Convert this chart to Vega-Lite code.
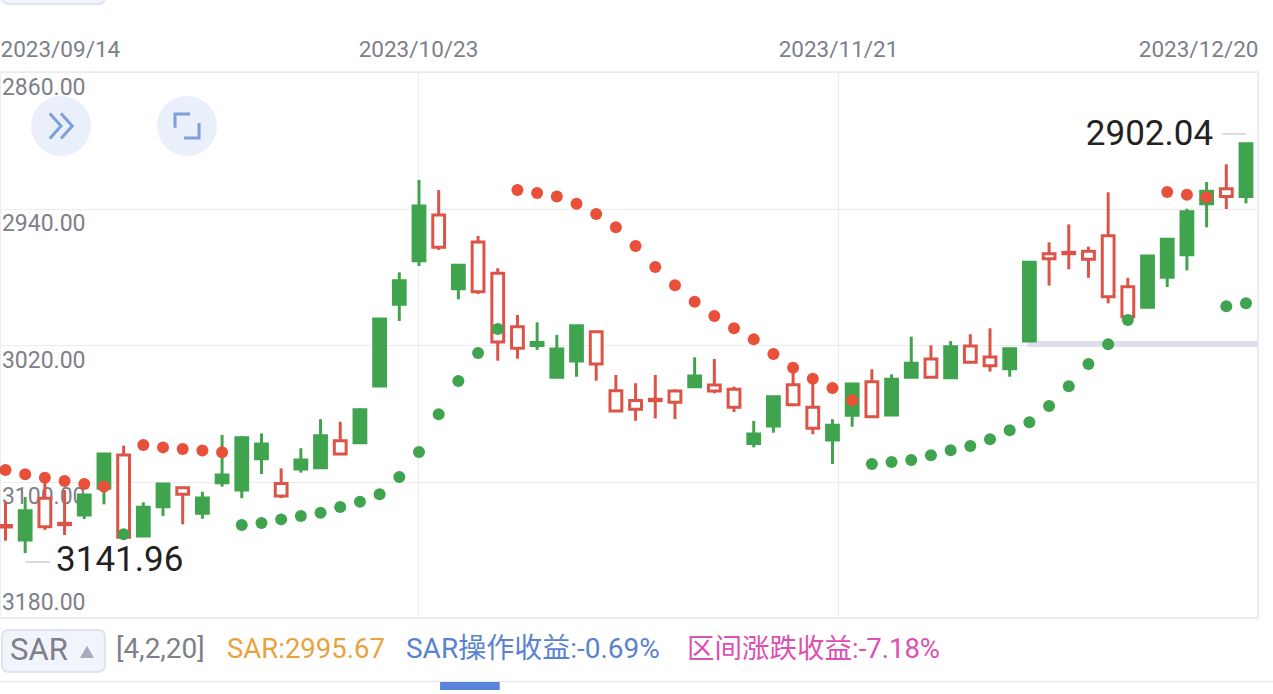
{"$schema":"https://vega.github.io/schema/vega-lite/v6.json","width":1258,"height":546,"autosize":{"type":"none"},"padding":{"left":0,"top":72,"right":15,"bottom":76},"background":"#ffffff","view":{"stroke":"#e8e9ee","strokeWidth":1.5},"config":{"font":"Roboto, 'Noto Sans CJK SC', sans-serif"},
"datasets":{"candles":[
{"i":0,"dir":"up","low":3111.8,"open":3125.8,"close":3126.7,"high":3134.7},
{"i":1,"dir":"down","low":3109.1,"open":3134.3,"close":3117.1,"high":3141.96},
{"i":2,"dir":"up","low":3097.9,"open":3109.8,"close":3126.5,"high":3128.4},
{"i":3,"dir":"up","low":3105,"open":3124.5,"close":3125.3,"high":3131.4},
{"i":4,"dir":"down","low":3107.9,"open":3119.6,"close":3107.9,"high":3122},
{"i":5,"dir":"down","low":3083.9,"open":3104,"close":3083.9,"high":3113.4},
{"i":6,"dir":"up","low":3079,"open":3084.5,"close":3132.7,"high":3132.7},
{"i":7,"dir":"down","low":3112.2,"open":3131.9,"close":3115.1,"high":3131.9},
{"i":8,"dir":"down","low":3101.5,"open":3114.8,"close":3101.5,"high":3120.2},
{"i":9,"dir":"up","low":3103.6,"open":3103.6,"close":3107.5,"high":3125.1},
{"i":10,"dir":"down","low":3106,"open":3118.6,"close":3109.7,"high":3121.8},
{"i":11,"dir":"down","low":3072.7,"open":3100.7,"close":3096.2,"high":3103},
{"i":12,"dir":"down","low":3073.3,"open":3105,"close":3074.3,"high":3109.8},
{"i":13,"dir":"down","low":3071.8,"open":3086.6,"close":3078,"high":3095.6},
{"i":14,"dir":"up","low":3092.3,"open":3101.1,"close":3108.5,"high":3109.8},
{"i":15,"dir":"down","low":3080.5,"open":3092.7,"close":3087.4,"high":3094.8},
{"i":16,"dir":"down","low":3063.5,"open":3091.9,"close":3073.2,"high":3091.9},
{"i":17,"dir":"up","low":3065,"open":3076.1,"close":3083.9,"high":3083.9},
{"i":18,"dir":"down","low":3057.1,"open":3077.3,"close":3057.9,"high":3077.3},
{"i":19,"dir":"down","low":3004.8,"open":3044,"close":3004.8,"high":3044},
{"i":20,"dir":"down","low":2977.4,"open":2996.1,"close":2982.3,"high":3005.9},
{"i":21,"dir":"down","low":2923.3,"open":2970.6,"close":2938.5,"high":2973.7},
{"i":22,"dir":"up","low":2929.2,"open":2943.8,"close":2962.7,"high":2964.3},
{"i":23,"dir":"down","low":2972.7,"open":2987,"close":2973.3,"high":2993.2},
{"i":24,"dir":"up","low":2956.1,"open":2959.6,"close":2988.8,"high":2990.1},
{"i":25,"dir":"up","low":2975,"open":2978,"close":3018.2,"high":3029.2},
{"i":26,"dir":"up","low":3002.4,"open":3009.3,"close":3021.9,"high":3028},
{"i":27,"dir":"down","low":3006.7,"open":3020.3,"close":3018.5,"high":3022.9},
{"i":28,"dir":"down","low":3014.1,"open":3038.9,"close":3022.3,"high":3038.9},
{"i":29,"dir":"down","low":3008.7,"open":3029.4,"close":3008.7,"high":3038.6},
{"i":30,"dir":"up","low":3012.2,"open":3012.2,"close":3031.1,"high":3040.9},
{"i":31,"dir":"up","low":3037.6,"open":3046.8,"close":3058.7,"high":3058.7},
{"i":32,"dir":"up","low":3042.4,"open":3052.6,"close":3057.7,"high":3064.4},
{"i":33,"dir":"up","low":3037.6,"open":3051.8,"close":3052.6,"high":3063},
{"i":34,"dir":"up","low":3046,"open":3047,"close":3053.6,"high":3063.4},
{"i":35,"dir":"down","low":3027.2,"open":3044.4,"close":3038.2,"high":3044.4},
{"i":36,"dir":"up","low":3028.2,"open":3043.4,"close":3047,"high":3048.3},
{"i":37,"dir":"up","low":3044.4,"open":3046,"close":3056.5,"high":3059.3},
{"i":38,"dir":"down","low":3064.5,"open":3077.8,"close":3072.2,"high":3080},
{"i":39,"dir":"down","low":3050.3,"open":3067.5,"close":3050.3,"high":3071.4},
{"i":40,"dir":"up","low":3034.7,"open":3043.3,"close":3055,"high":3055.8},
{"i":41,"dir":"up","low":3040.5,"open":3056.5,"close":3068.8,"high":3072.3},
{"i":42,"dir":"down","low":3063.5,"open":3075.7,"close":3067.1,"high":3089.7},
{"i":43,"dir":"down","low":3042.9,"open":3061.2,"close":3042.9,"high":3067.9},
{"i":44,"dir":"up","low":3034.2,"open":3041.5,"close":3062,"high":3062},
{"i":45,"dir":"down","low":3037.2,"open":3061,"close":3040.1,"high":3061},
{"i":46,"dir":"down","low":3015.1,"open":3038.9,"close":3030.7,"high":3038.9},
{"i":47,"dir":"up","low":3020.2,"open":3028.2,"close":3038.9,"high":3038.9},
{"i":48,"dir":"down","low":3017.7,"open":3039.2,"close":3021,"high":3039.2},
{"i":49,"dir":"up","low":3013.7,"open":3020.6,"close":3030.1,"high":3030.7},
{"i":50,"dir":"up","low":3010.2,"open":3027,"close":3032.1,"high":3035.6},
{"i":51,"dir":"down","low":3022.2,"open":3033.9,"close":3022.2,"high":3038.6},
{"i":52,"dir":"down","low":2971.5,"open":3017.7,"close":2971.5,"high":3017.7},
{"i":53,"dir":"up","low":2959.8,"open":2966.5,"close":2969.4,"high":2985.2},
{"i":54,"dir":"up","low":2949.3,"open":2965.7,"close":2966.5,"high":2975.6},
{"i":55,"dir":"up","low":2962.4,"open":2965.1,"close":2969.8,"high":2980.6},
{"i":56,"dir":"up","low":2930.5,"open":2955.9,"close":2991.7,"high":2995.6},
{"i":57,"dir":"up","low":2980.6,"open":2985.8,"close":3003.4,"high":3003.4},
{"i":58,"dir":"down","low":2967.8,"open":2997.9,"close":2967.8,"high":2997.9},
{"i":59,"dir":"down","low":2958,"open":2980.3,"close":2958,"high":2986},
{"i":60,"dir":"down","low":2940.1,"open":2967.1,"close":2941.9,"high":2976.2},
{"i":61,"dir":"down","low":2924.5,"open":2937.2,"close":2929.9,"high":2951},
{"i":62,"dir":"up","low":2914.1,"open":2928.4,"close":2932.9,"high":2940.3},
{"i":63,"dir":"down","low":2902.04,"open":2932.9,"close":2902.04,"high":2937}
],"sar":[
{"i":0,"sar":3093.3,"side":"above"},{"i":1,"sar":3095.8,"side":"above"},{"i":2,"sar":3097.8,"side":"above"},{"i":3,"sar":3099.7,"side":"above"},{"i":4,"sar":3101.5,"side":"above"},{"i":5,"sar":3103,"side":"above"},
{"i":6,"sar":3130.9,"side":"below"},
{"i":7,"sar":3078.6,"side":"above"},{"i":8,"sar":3080,"side":"above"},{"i":9,"sar":3081,"side":"above"},{"i":10,"sar":3081.9,"side":"above"},{"i":11,"sar":3082.9,"side":"above"},
{"i":12,"sar":3125.5,"side":"below"},{"i":13,"sar":3124.3,"side":"below"},{"i":14,"sar":3122.2,"side":"below"},{"i":15,"sar":3120.2,"side":"below"},{"i":16,"sar":3118.3,"side":"below"},{"i":17,"sar":3114.9,"side":"below"},{"i":18,"sar":3111.8,"side":"below"},{"i":19,"sar":3107.5,"side":"below"},{"i":20,"sar":3097.4,"side":"below"},{"i":21,"sar":3082.7,"side":"below"},{"i":22,"sar":3060.6,"side":"below"},{"i":23,"sar":3041.1,"side":"below"},{"i":24,"sar":3024.7,"side":"below"},{"i":25,"sar":3010.6,"side":"below"},
{"i":26,"sar":2929.2,"side":"above"},{"i":27,"sar":2930.9,"side":"above"},{"i":28,"sar":2932.9,"side":"above"},{"i":29,"sar":2937.2,"side":"above"},{"i":30,"sar":2943.2,"side":"above"},{"i":31,"sar":2951,"side":"above"},{"i":32,"sar":2962,"side":"above"},{"i":33,"sar":2974.3,"side":"above"},{"i":34,"sar":2985,"side":"above"},{"i":35,"sar":2994.6,"side":"above"},{"i":36,"sar":3003,"side":"above"},{"i":37,"sar":3010.2,"side":"above"},{"i":38,"sar":3016.7,"side":"above"},{"i":39,"sar":3025.3,"side":"above"},{"i":40,"sar":3033.3,"side":"above"},{"i":41,"sar":3039.8,"side":"above"},{"i":42,"sar":3045.2,"side":"above"},{"i":43,"sar":3052.4,"side":"above"},
{"i":44,"sar":3089.7,"side":"below"},{"i":45,"sar":3088.6,"side":"below"},{"i":46,"sar":3087.4,"side":"below"},{"i":47,"sar":3084.6,"side":"below"},{"i":48,"sar":3081.7,"side":"below"},{"i":49,"sar":3079.2,"side":"below"},{"i":50,"sar":3075.3,"side":"below"},{"i":51,"sar":3070,"side":"below"},{"i":52,"sar":3065.3,"side":"below"},{"i":53,"sar":3055.8,"side":"below"},{"i":54,"sar":3044.2,"side":"below"},{"i":55,"sar":3031.1,"side":"below"},{"i":56,"sar":3019.6,"side":"below"},{"i":57,"sar":3005.3,"side":"below"},
{"i":59,"sar":2930.3,"side":"above"},{"i":60,"sar":2931.9,"side":"above"},{"i":61,"sar":2933.4,"side":"above"},
{"i":62,"sar":2997.3,"side":"below"},{"i":63,"sar":2995.6,"side":"below"}
]},
"encoding":{"x":{"field":"i","type":"quantitative","title":null,"scale":{"domain":[-0.279,63.61],"nice":false,"zero":false,"padding":0}},"y":{"type":"quantitative","title":null,"scale":{"domain":[2860,3180],"reverse":true,"nice":false,"zero":false,"padding":0}}},
"layer":[
{"data":{"values":[{"i":-0.279,"price":3020}]},"mark":{"type":"point","opacity":0},"encoding":{"y":{"field":"price","type":"quantitative","axis":{"orient":"left","values":[2860,2940,3020,3100,3180],"format":".2f","domain":false,"ticks":false,"grid":true,"gridColor":"#ebecef","gridWidth":1,"labelFontSize":23,"labelColor":"#7d8089","labelAlign":"right","labelBaseline":"middle","labelPadding":-85,"labelOffset":{"condition":{"test":"datum.value==3180","value":-16},"value":15}}},"x":{"field":"i","type":"quantitative","axis":{"orient":"top","values":[-0.279,20.95,42.28,63.61],"labelExpr":"datum.value<0?'2023/09/14':datum.value<30?'2023/10/23':datum.value<50?'2023/11/21':'2023/12/20'","labelFlush":true,"domain":false,"ticks":false,"grid":true,"gridColor":"#ebecef","gridWidth":1,"labelFontSize":22.5,"labelColor":"#7d8089","labelPadding":11}}}},
{"data":{"values":[{"i":51.9,"i2":63.61,"price":3019.4}]},"mark":{"type":"rule","color":"#dadfeb","strokeWidth":6},"encoding":{"x":{"field":"i","type":"quantitative"},"x2":{"field":"i2"},"y":{"field":"price","type":"quantitative"}}},
{"data":{"name":"candles"},"mark":{"type":"rule","strokeWidth":3},"encoding":{"x":{"field":"i","type":"quantitative"},"y":{"field":"low","type":"quantitative"},"y2":{"field":"high"},"stroke":{"field":"dir","type":"nominal","legend":null,"scale":{"domain":["up","down"],"range":["#dc5347","#40a44e"]}}}},
{"data":{"name":"candles"},"mark":{"type":"bar","width":11.8,"strokeWidth":3},"encoding":{"x":{"field":"i","type":"quantitative"},"y":{"field":"open","type":"quantitative"},"y2":{"field":"close"},"fill":{"field":"dir","type":"nominal","legend":null,"scale":{"domain":["up","down"],"range":["#ffffff","#40a44e"]}},"stroke":{"field":"dir","type":"nominal","legend":null}}},
{"data":{"name":"sar"},"mark":{"type":"point","filled":true,"size":144,"opacity":1},"encoding":{"x":{"field":"i","type":"quantitative"},"y":{"field":"sar","type":"quantitative"},"color":{"field":"side","type":"nominal","legend":null,"scale":{"domain":["above","below"],"range":["#e8503a","#40a44e"]}}}},
{"data":{"values":[{"i":61.8,"i2":63,"price":2896.3},{"i":1,"i2":2.26,"price":3147.2}]},"mark":{"type":"rule","color":"#cfd0d4","strokeWidth":1.5},"encoding":{"x":{"field":"i","type":"quantitative"},"x2":{"field":"i2"},"y":{"field":"price","type":"quantitative"}}},
{"data":{"values":[{"i":61.33,"price":2896.3,"label":"2902.04"}]},"mark":{"type":"text","align":"right","baseline":"middle","fontSize":35,"color":"#222222"},"encoding":{"x":{"field":"i","type":"quantitative"},"y":{"field":"price","type":"quantitative"},"text":{"field":"label"}}},
{"data":{"values":[{"i":2.57,"price":3146,"label":"3141.96"}]},"mark":{"type":"text","align":"left","baseline":"middle","fontSize":35,"color":"#222222"},"encoding":{"x":{"field":"i","type":"quantitative"},"y":{"field":"price","type":"quantitative"},"text":{"field":"label"}}},
{"data":{"values":[{"i":2.82,"price":2891.6},{"i":9.22,"price":2891.6}]},"mark":{"type":"point","filled":true,"size":3600,"color":"#eaf0fb","opacity":1},"encoding":{"x":{"field":"i","type":"quantitative"},"y":{"field":"price","type":"quantitative"}}},
{"data":{"values":[{"i":2.82,"price":2891.6}]},"mark":{"type":"point","filled":false,"size":625,"color":"#7c9fdc","strokeWidth":3,"opacity":1,"shape":"M-0.9,-1L0,0L-0.9,1M0,-1L0.9,0L0,1"},"encoding":{"x":{"field":"i","type":"quantitative"},"y":{"field":"price","type":"quantitative"}}},
{"data":{"values":[{"i":9.22,"price":2891.6}]},"mark":{"type":"point","filled":false,"size":576,"color":"#7c9fdc","strokeWidth":3,"opacity":1,"shape":"M0.25,-1L-1,-1L-1,0.15M1,-0.25L1,1L-0.25,1"},"encoding":{"x":{"field":"i","type":"quantitative"},"y":{"field":"price","type":"quantitative"}}},
{"data":{"values":[{"i":-0.18,"i2":5.05,"price":3187,"price2":3211.6},{"i":-0.18,"i2":5.05,"price":2813.1,"price2":2820.1}]},"mark":{"type":"bar","fill":"#f2f4fb","stroke":"#dfe3f0","strokeWidth":2,"cornerRadius":6,"clip":false},"encoding":{"x":{"field":"i","type":"quantitative"},"x2":{"field":"i2"},"y":{"field":"price","type":"quantitative"},"y2":{"field":"price2"}}},
{"data":{"values":[{"i":4.14,"price":3199.9}]},"mark":{"type":"point","filled":true,"shape":"triangle-up","size":200,"color":"#a9adbb","opacity":1},"encoding":{"x":{"field":"i","type":"quantitative"},"y":{"field":"price","type":"quantitative"}}},
{"data":{"values":[{"i":0.23,"price":3199.3,"label":"SAR"}]},"mark":{"type":"text","align":"left","baseline":"middle","fontSize":31,"color":"#7d8089"},"encoding":{"x":{"field":"i","type":"quantitative"},"y":{"field":"price","type":"quantitative"},"text":{"field":"label"}}},
{"data":{"values":[{"i":5.61,"price":3198.8,"label":"[4,2,20]"}]},"mark":{"type":"text","align":"left","baseline":"middle","fontSize":28,"color":"#7d8089"},"encoding":{"x":{"field":"i","type":"quantitative"},"y":{"field":"price","type":"quantitative"},"text":{"field":"label"}}},
{"data":{"values":[{"i":11.25,"price":3198.8,"label":"SAR:2995.67"}]},"mark":{"type":"text","align":"left","baseline":"middle","fontSize":27.5,"color":"#e8a33d"},"encoding":{"x":{"field":"i","type":"quantitative"},"y":{"field":"price","type":"quantitative"},"text":{"field":"label"}}},
{"data":{"values":[{"i":20.34,"price":3198.8,"label":"SAR操作收益:-0.69%"}]},"mark":{"type":"text","align":"left","baseline":"middle","fontSize":28,"color":"#5b82cf"},"encoding":{"x":{"field":"i","type":"quantitative"},"y":{"field":"price","type":"quantitative"},"text":{"field":"label"}}},
{"data":{"values":[{"i":34.61,"price":3198.8,"label":"区间涨跌收益:-7.18%"}]},"mark":{"type":"text","align":"left","baseline":"middle","fontSize":27.5,"color":"#dd4fb0"},"encoding":{"x":{"field":"i","type":"quantitative"},"y":{"field":"price","type":"quantitative"},"text":{"field":"label"}}},
{"data":{"values":[{"i":-0.279,"i2":64.37,"price":3217.2}]},"mark":{"type":"rule","color":"#e8e9ee","strokeWidth":1.5},"encoding":{"x":{"field":"i","type":"quantitative"},"x2":{"field":"i2"},"y":{"field":"price","type":"quantitative"}}},
{"data":{"values":[{"i":22.07,"i2":25.1,"price":3217.5,"price2":3222.2}]},"mark":{"type":"bar","color":"#5b82dd"},"encoding":{"x":{"field":"i","type":"quantitative"},"x2":{"field":"i2"},"y":{"field":"price","type":"quantitative"},"y2":{"field":"price2"}}}
]}
